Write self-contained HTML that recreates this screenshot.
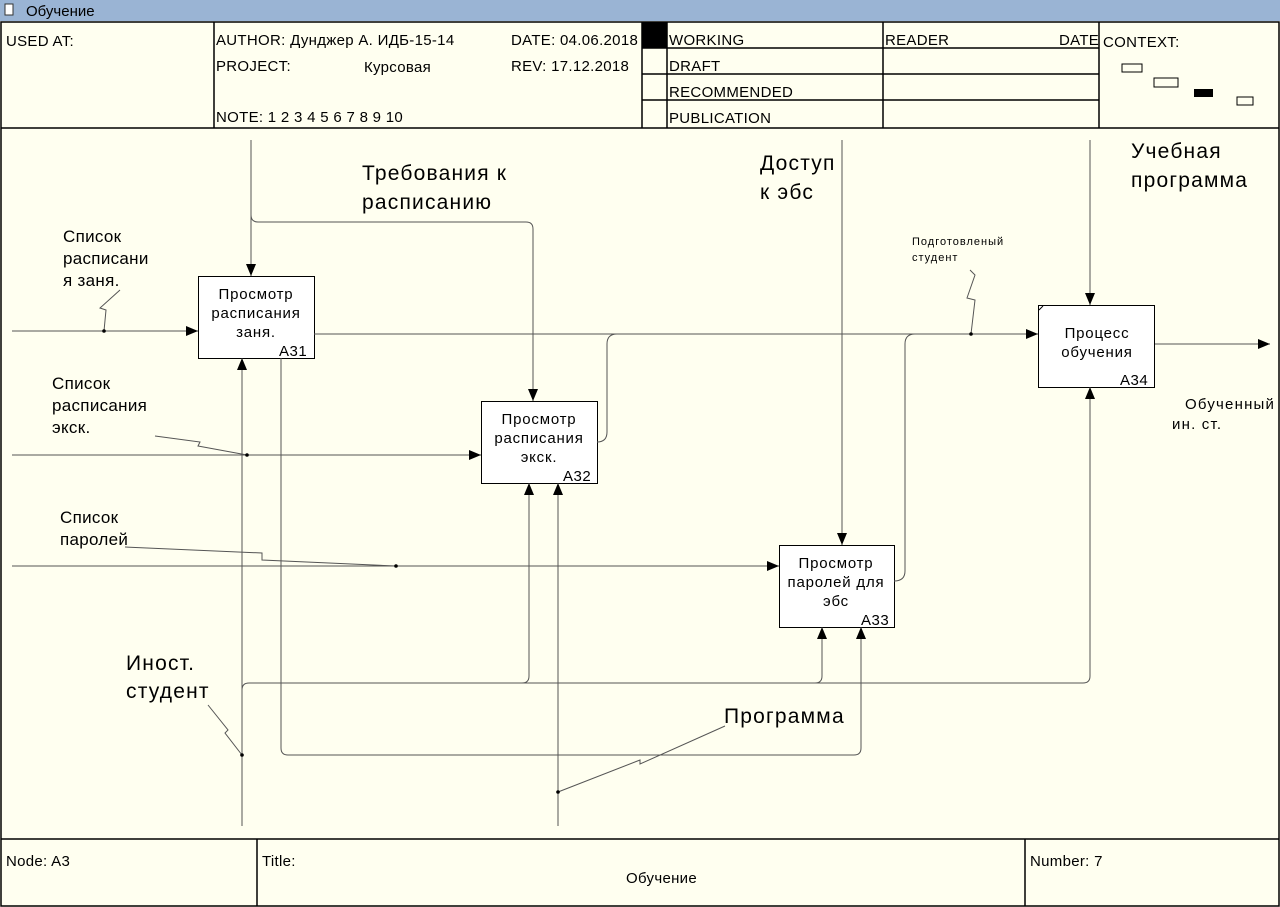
<!DOCTYPE html>
<html><head><meta charset="utf-8"><style>
html,body{margin:0;padding:0;background:#fffff0}
svg{display:block}
text{font-family:"Liberation Sans","DejaVu Sans",sans-serif;fill:#000}
</style></head><body>
<svg width="1280" height="907" viewBox="0 0 1280 907" xmlns="http://www.w3.org/2000/svg">
<defs><marker id="a" viewBox="0 0 12 10" refX="12" refY="5" markerWidth="12" markerHeight="10" markerUnits="userSpaceOnUse" orient="auto"><path d="M0,0L12,5L0,10z" fill="#000"/></marker></defs>
<rect x="0" y="0" width="1280" height="907" fill="#fffff0"/>
<rect x="0" y="0" width="1280" height="21" fill="#9ab4d4"/>
<rect x="5" y="4" width="8" height="11" fill="#fff" stroke="#333" stroke-width="1"/>
<text x="26" y="16" font-size="15">Обучение</text>
<g stroke="#000" stroke-width="1.5" fill="none">
<rect x="1" y="22" width="1278" height="884"/>
<line x1="1" y1="128" x2="1279" y2="128"/>
<line x1="214" y1="22" x2="214" y2="128"/>
<line x1="642" y1="22" x2="642" y2="128"/>
<line x1="667" y1="22" x2="667" y2="128"/>
<line x1="883" y1="22" x2="883" y2="128"/>
<line x1="1099" y1="22" x2="1099" y2="128"/>
<line x1="642" y1="48" x2="1099" y2="48"/>
<line x1="642" y1="74" x2="1099" y2="74"/>
<line x1="642" y1="100" x2="1099" y2="100"/>
<line x1="1" y1="839" x2="1279" y2="839"/>
<line x1="257" y1="839" x2="257" y2="906"/>
<line x1="1025" y1="839" x2="1025" y2="906"/>
</g>
<rect x="642" y="22" width="25" height="26" fill="#000"/>
<g font-size="15" letter-spacing="0.3">
<text x="6" y="46">USED AT:</text>
<text x="216" y="45">AUTHOR: Дунджер А. ИДБ-15-14</text>
<text x="216" y="71">PROJECT:</text>
<text x="364" y="72">Курсовая</text>
<text x="216" y="122">NOTE: 1 2 3 4 5 6 7 8 9 10</text>
<text x="511" y="45">DATE: 04.06.2018</text>
<text x="511" y="71">REV:    17.12.2018</text>
<text x="669" y="45">WORKING</text>
<text x="669" y="71">DRAFT</text>
<text x="669" y="97">RECOMMENDED</text>
<text x="669" y="123">PUBLICATION</text>
<text x="885" y="45">READER</text>
<text x="1059" y="45">DATE</text>
<text x="1103" y="47">CONTEXT:</text>
<text x="6" y="866">Node: A3</text>
<text x="262" y="866">Title:</text>
<text x="626" y="883">Обучение</text>
<text x="1030" y="866">Number: 7</text>
</g>
<g fill="none" stroke="#000" stroke-width="1">
<rect x="1122" y="64" width="20" height="8"/>
<rect x="1154" y="78" width="24" height="9"/>
<rect x="1237" y="97" width="16" height="8"/>
</g>
<rect x="1194" y="89" width="19" height="8" fill="#000"/>

<g fill="#fff" stroke="#000" stroke-width="1">
<rect x="198.5" y="276.5" width="116" height="82"/>
<rect x="481.5" y="401.5" width="116" height="82"/>
<rect x="779.5" y="545.5" width="115" height="82"/>
<rect x="1038.5" y="305.5" width="116" height="82"/>
</g>
<line x1="1039" y1="310" x2="1043" y2="306" stroke="#000"/>
<g font-size="15" letter-spacing="0.8" text-anchor="middle">
<text x="256" y="299">Просмотр</text><text x="256" y="318">расписания</text><text x="256" y="337">заня.</text>
<text x="539" y="424">Просмотр</text><text x="539" y="443">расписания</text><text x="539" y="462">экск.</text>
<text x="836" y="568">Просмотр</text><text x="836" y="587">паролей для</text><text x="836" y="606">эбс</text>
<text x="1097" y="338">Процесс</text><text x="1097" y="357">обучения</text>
</g>
<g font-size="15" letter-spacing="0.5">
<text x="279" y="356">A31</text><text x="563" y="481">A32</text><text x="861" y="625">A33</text><text x="1120" y="385">A34</text>
</g>

<g fill="none" stroke="#555" stroke-width="1">
<path d="M251,140 V276" marker-end="url(#a)"/>
<path d="M251,140 V215 Q251,222 258,222 H526 Q533,222 533,229 V401" marker-end="url(#a)"/>
<path d="M12,331 H198" marker-end="url(#a)"/>
<path d="M314,334 H1038" marker-end="url(#a)"/>
<path d="M597,442 Q607,442 607,432 V344 Q607,334 617,334"/>
<path d="M894,581 Q905,581 905,571 V344 Q905,334 915,334"/>
<path d="M12,455 H481" marker-end="url(#a)"/>
<path d="M12,566 H779" marker-end="url(#a)"/>
<path d="M842,140 V545" marker-end="url(#a)"/>
<path d="M1090,140 V305" marker-end="url(#a)"/>
<path d="M1155,344 H1270" marker-end="url(#a)"/>
<path d="M242,826 V358" marker-end="url(#a)"/>
<path d="M242,690 Q242,683 249,683 H1083 Q1090,683 1090,676 V387" marker-end="url(#a)"/>
<path d="M522,683 Q529,683 529,676 V483" marker-end="url(#a)"/>
<path d="M815,683 Q822,683 822,676 V627" marker-end="url(#a)"/>
<path d="M558,826 V483" marker-end="url(#a)"/>
<path d="M281,358 V748 Q281,755 288,755 H854 Q861,755 861,748 V627" marker-end="url(#a)"/>
<path d="M104,331 L106,310 L100,308 L120,290"/>
<path d="M155,436 L200,442 L198,446 L247,455"/>
<path d="M125,547 L262,553 L262,560 L396,566"/>
<path d="M208,705 L228,730 L225,733 L242,755"/>
<path d="M558,792 L640,760 L640,764 L725,726"/>
<path d="M970,270 L975,275 L967,298 L975,300 L971,334"/>
</g>
<g fill="#000">
<circle cx="104" cy="331" r="1.8"/><circle cx="247" cy="455" r="1.8"/><circle cx="396" cy="566" r="1.8"/>
<circle cx="242" cy="755" r="1.8"/><circle cx="558" cy="792" r="1.8"/><circle cx="971" cy="334" r="1.8"/>
</g>

<g font-size="17" letter-spacing="0.3">
<text x="63" y="242">Список</text><text x="63" y="264">расписани</text><text x="63" y="286">я заня.</text>
<text x="52" y="389">Список</text><text x="52" y="411">расписания</text><text x="52" y="433">экск.</text>
<text x="60" y="523">Список</text><text x="60" y="545">паролей</text>
</g>
<g font-size="21" letter-spacing="1.2">
<text x="362" y="180">Требования к</text><text x="362" y="209">расписанию</text>
<text x="760" y="170">Доступ</text><text x="760" y="199">к эбс</text>
<text x="1131" y="158">Учебная</text><text x="1131" y="187">программа</text>
<text x="126" y="670">Иност.</text><text x="126" y="698">студент</text>
<text x="724" y="723">Программа</text>
</g>
<g font-size="11" letter-spacing="1">
<text x="912" y="245">Подготовленый</text><text x="912" y="261">студент</text>
</g>
<g font-size="15" letter-spacing="1.2">
<text x="1185" y="409">Обученный</text><text x="1172" y="429">ин. ст.</text>
</g>
</svg>
</body></html>
